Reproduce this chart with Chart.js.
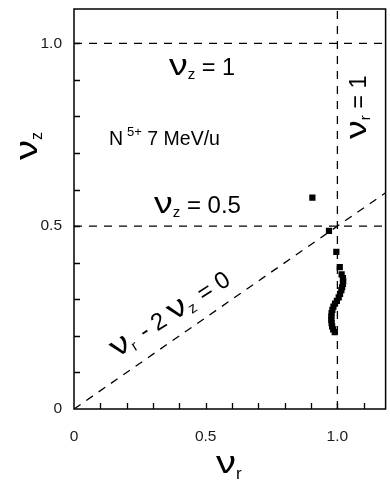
<!DOCTYPE html>
<html><head><meta charset="utf-8">
<script src="https://cdn.jsdelivr.net/npm/chart.js@4"></script>
<style>html,body{margin:0;padding:0;background:#fff}#wrap{width:390px;height:481px;position:relative}</style>
</head><body><div id="wrap"><canvas id="c"></canvas></div>
<script>
// ---- data (tune nu_r, nu_z of N5+ 7 MeV/u) ----
const nuR = [0.905, 0.968, 0.996, 1.009, 1.016, 1.021, 1.022, 1.021, 1.018, 1.015, 1.010, 1.005, 0.998, 0.991, 0.985, 0.981, 0.978, 0.977, 0.977, 0.978, 0.980, 0.984, 0.990];
const nuZ = [0.578, 0.487, 0.430, 0.388, 0.368, 0.358, 0.350, 0.342, 0.333, 0.325, 0.315, 0.305, 0.296, 0.288, 0.280, 0.271, 0.262, 0.253, 0.244, 0.235, 0.226, 0.218, 0.210];
// axis ranges
const xRange = [0, 1.183];
const yRange = [0, 1.094];
// tick labels
const xTickValues = [0, 0.5, 1.0];
const xTickLabels = ['0', '0.5', '1.0'];
const yTickValues = [0, 0.5, 1.0];
const yTickLabels = ['0', '0.5', '1.0'];
const xMinorTicks = [0.1, 0.2, 0.3, 0.4, 0.5, 0.6, 0.7, 0.8, 0.9, 1.0, 1.1];
const yMinorTicks = [0.1, 0.2, 0.3, 0.4, 0.5, 0.6, 0.7, 0.8, 0.9, 1.0];
// resonance lines
const nuZLines = [1.0, 0.5];   // nu_z = 1, nu_z = 0.5
const nuRLines = [1.0];        // nu_r = 1
const couplingX = [0, 1.183];  // nu_r - 2 nu_z = 0
const couplingY = [0, 0.5915];

const FONT = '"Liberation Sans", Arial, Helvetica, sans-serif';
const dash = [8, 7];
const refStyle = {showLine: true, pointRadius: 0, borderColor: '#000', borderWidth: 1.3, borderDash: dash, fill: false};

const datasets = [
  {label: 'data', data: nuR.map((v, i) => ({x: v, y: nuZ[i]})), pointStyle: 'rect', pointRadius: 4.4,
   backgroundColor: '#000', borderColor: '#000', borderWidth: 0, showLine: false}
];
nuZLines.forEach(v => datasets.push(Object.assign({label: 'z' + v, data: [{x: xRange[0], y: v}, {x: xRange[1], y: v}]}, refStyle)));
nuRLines.forEach(v => datasets.push(Object.assign({label: 'r' + v, data: [{x: v, y: yRange[0]}, {x: v, y: yRange[1]}]}, refStyle)));
datasets.push(Object.assign({label: 'coupling', data: couplingX.map((v, i) => ({x: v, y: couplingY[i]}))}, refStyle));

function run(ctx, x, y, parts) {
  let cx = x;
  for (const p of parts) {
    const [t, size, dy, sx, gap] = p;
    ctx.font = size + 'px ' + FONT;
    ctx.save(); ctx.translate(cx + (gap || 0), y + (dy || 0)); ctx.scale(sx || 1, 1); ctx.fillText(t, 0, 0); ctx.restore();
    cx += ctx.measureText(t).width * (sx || 1) + (gap || 0);
  }
}
const NU = ['ν', 30, 0, 1.25];

const annot = {
  id: 'annot',
  afterDraw(chart) {
    const {ctx, chartArea: a, scales: {x, y}} = chart;
    ctx.save();
    ctx.strokeStyle = '#000';
    ctx.lineWidth = 1.5;
    ctx.setLineDash([]);
    ctx.strokeRect(a.left, a.top, a.right - a.left, a.bottom - a.top);
    ctx.lineWidth = 1.3;
    ctx.beginPath();
    xMinorTicks.forEach(v => { const px = Math.round(x.getPixelForValue(v)) + 0.5; ctx.moveTo(px, a.bottom); ctx.lineTo(px, a.bottom - 6); });
    yMinorTicks.forEach(v => { const py = Math.round(y.getPixelForValue(v)) + 0.5; ctx.moveTo(a.left, py); ctx.lineTo(a.left + 6, py); });
    ctx.stroke();
    // tick labels
    ctx.fillStyle = '#1a1a1a';
    ctx.font = '15.5px ' + FONT;
    ctx.textBaseline = 'middle';
    ctx.textAlign = 'center';
    xTickValues.forEach((v, i) => ctx.fillText(xTickLabels[i], x.getPixelForValue(v), a.bottom + 28));
    ctx.textAlign = 'right';
    yTickValues.forEach((v, i) => ctx.fillText(yTickLabels[i], a.left - 12, y.getPixelForValue(v)));
    // annotations
    ctx.fillStyle = '#000';
    ctx.textAlign = 'left';
    ctx.textBaseline = 'alphabetic';
    run(ctx, 169, 75, [NU, ['z', 15, 4], [' = 1', 23.5]]);
    run(ctx, 154, 213, [NU, ['z', 15, 4], [' = 0.5', 24]]);
    run(ctx, 109, 145, [['N', 19.5], ['5+', 13, -9, 1, 4], [' 7 MeV/u', 19.5]]);
    // nu_r = 1 rotated
    ctx.save(); ctx.translate(366, 139); ctx.rotate(-Math.PI / 2);
    run(ctx, 0, 0, [NU, ['r', 15, 4], [' = 1', 23.5]]);
    ctx.restore();
    // coupling label
    ctx.save(); ctx.translate(117, 358); ctx.rotate(-33 * Math.PI / 180);
    run(ctx, 0, 0, [NU, ['r', 15, 4], [' - 2 ', 24, 0, 1, 3], NU, ['z', 15, 4], [' = 0', 24, 0, 1, 2]]);
    ctx.restore();
    // axis titles
    ctx.save(); ctx.translate(37, 160); ctx.rotate(-Math.PI / 2);
    run(ctx, 0, 0, [['ν', 32, 0, 1.25], ['z', 16, 5]]);
    ctx.restore();
    run(ctx, 216, 473, [['ν', 32, 0, 1.25], ['r', 17, 6]]);
    ctx.restore();
  }
};

new Chart(document.getElementById('c'), {
  type: 'scatter',
  data: {datasets},
  options: {
    responsive: true, maintainAspectRatio: false, animation: false, devicePixelRatio: 1,
    layout: {padding: {top: 9, right: 4, left: 0, bottom: 0}},
    plugins: {legend: {display: false}, tooltip: {enabled: false}},
    scales: {
      x: {type: 'linear', min: xRange[0], max: xRange[1], ticks: {display: false}, grid: {display: false}, border: {display: false},
          afterFit: s => { s.height = 72; }},
      y: {type: 'linear', min: yRange[0], max: yRange[1], ticks: {display: false}, grid: {display: false}, border: {display: false},
          afterFit: s => { s.width = 74; }}
    }
  },
  plugins: [annot]
});
</script></body></html>
